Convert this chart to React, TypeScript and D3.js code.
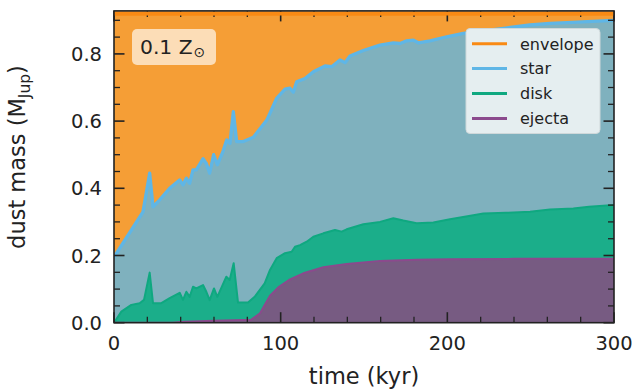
import React from 'react';
import * as d3 from 'd3';

// values (time in kyr, cumulative dust mass in M_Jup)
const envTime = [0, 300];
const envTop = [0.92, 0.92];

const starTime = [0, 17.4, 21.4, 23.4, 26.4, 33.4, 39.4, 41.4, 43.4, 45.4, 47.4, 49.4, 53.4, 55.4, 57.4, 59.8, 62, 65.4, 67.6, 69.6, 71.6, 73.6, 77.6, 83.6, 91.7, 97.6, 102.6, 105.6, 107.6, 109.6, 114.6, 119.6, 126.6, 130.6, 135.6, 138.6, 141.6, 149.6, 159.6, 167.6, 171.6, 175.6, 179.6, 182.6, 189.6, 199.6, 209.6, 220, 235, 249.6, 261.6, 275, 287, 300];
const starTop = [0.195, 0.33, 0.445, 0.345, 0.36, 0.4, 0.425, 0.41, 0.43, 0.415, 0.455, 0.455, 0.488, 0.474, 0.445, 0.5, 0.47, 0.51, 0.544, 0.534, 0.628, 0.539, 0.539, 0.552, 0.603, 0.668, 0.695, 0.698, 0.686, 0.717, 0.727, 0.747, 0.764, 0.762, 0.782, 0.774, 0.794, 0.81, 0.826, 0.833, 0.831, 0.839, 0.841, 0.833, 0.839, 0.851, 0.861, 0.868, 0.877, 0.886, 0.891, 0.894, 0.897, 0.9];

const diskTime = [0, 4.4, 10.4, 15.4, 18, 21.4, 23.4, 28.4, 33.4, 39.4, 41.4, 43.4, 45.4, 47.4, 49.4, 53.4, 55.4, 57.4, 60, 62, 67.4, 69.4, 71.8, 74.4, 80.4, 84.4, 90.4, 93.6, 97.6, 102.6, 106.6, 108.6, 111.6, 115.6, 119.6, 125.6, 132.6, 136.6, 139.6, 149.6, 159.6, 167.6, 173.6, 181.6, 191.6, 201.6, 215.6, 221.6, 235, 249.6, 261.6, 275.6, 285, 300];
const diskTop = [0, 0.033, 0.053, 0.058, 0.068, 0.149, 0.058, 0.058, 0.073, 0.089, 0.068, 0.092, 0.077, 0.107, 0.102, 0.112, 0.092, 0.067, 0.102, 0.077, 0.137, 0.127, 0.177, 0.06, 0.06, 0.077, 0.117, 0.157, 0.192, 0.207, 0.211, 0.226, 0.231, 0.241, 0.256, 0.266, 0.276, 0.271, 0.278, 0.293, 0.3, 0.311, 0.304, 0.296, 0.298, 0.308, 0.32, 0.325, 0.327, 0.33, 0.337, 0.34, 0.345, 0.35];

const ejectaTime = [0, 35, 42, 60, 82.4, 87.6, 93.6, 99, 105, 113.6, 125.6, 139.6, 159.6, 181.6, 201.6, 240, 300];
const ejectaTop = [0, 0, 0.003, 0.006, 0.009, 0.028, 0.08, 0.107, 0.127, 0.147, 0.165, 0.175, 0.184, 0.187, 0.189, 0.19, 0.19];

const legendLabels = ['envelope', 'star', 'disk', 'ejecta'];
const lineColors = ['#f98a14', '#5fb6e6', '#0fa880', '#8b4a8d'];
const fillColors = ['#f59e36', '#7fb1be', '#1bae8a', '#775b82'];

const xMajor = [0, 100, 200, 300];
const yMajor = [0, 0.2, 0.4, 0.6, 0.8];

const W = 635;
const H = 391;

const x = d3.scaleLinear().domain([0, 300]).range([114, 614]);
const y = d3.scaleLinear().domain([0, 0.928]).range([322.7, 10.9]);

const zip = (t: number[], v: number[]) => t.map((d, i) => [d, v[i]] as [number, number]);

const series = [
  zip(envTime, envTop),
  zip(starTime, starTop),
  zip(diskTime, diskTop),
  zip(ejectaTime, ejectaTop),
];

const area = d3.area<[number, number]>()
  .x(d => x(d[0]))
  .y0(y(0))
  .y1(d => y(d[1]));

const line = d3.line<[number, number]>()
  .x(d => x(d[0]))
  .y(d => y(d[1]));

const xMinor = d3.range(0, 301, 20).filter(v => v % 100 !== 0);
const yMinor = d3.range(0, 19).map(i => i * 0.05).filter(v => Math.abs(v * 5 - Math.round(v * 5)) > 1e-6);

const font = 'DejaVu Sans, sans-serif';

const App = () => {
  const [x0, x1] = x.range();
  const [y0, y1] = y.range();
  const tickColor = '#222';
  return (
    <div style={{ position: 'absolute', left: 0, top: 0 }}>
      <svg width={W} height={H} style={{ display: 'block', background: '#fff' }}>
        <defs>
          <clipPath id="plot">
            <rect x={x0} y={y1} width={x1 - x0} height={y0 - y1} />
          </clipPath>
        </defs>

        <g clipPath="url(#plot)">
          {series.map((s, i) => (
            <g key={i}>
              <path d={area(s) || ''} fill={fillColors[i]} />
              <path d={line(s) || ''} fill="none" stroke={lineColors[i]}
                strokeWidth={i === 0 ? 4 : i === 1 ? 3.3 : 2} strokeLinejoin="round" />
            </g>
          ))}
        </g>

        {/* ticks, inward on every side */}
        <g stroke={tickColor}>
          {xMajor.map(v => (
            <g key={'xM' + v}>
              <line x1={x(v)} x2={x(v)} y1={y0} y2={y0 - 10.5} strokeWidth={1.6} />
              <line x1={x(v)} x2={x(v)} y1={y1} y2={y1 + 10.5} strokeWidth={1.6} />
            </g>
          ))}
          {xMinor.map(v => (
            <g key={'xm' + v}>
              <line x1={x(v)} x2={x(v)} y1={y0} y2={y0 - 6} strokeWidth={1.3} />
              <line x1={x(v)} x2={x(v)} y1={y1} y2={y1 + 6} strokeWidth={1.3} />
            </g>
          ))}
          {yMajor.map(v => (
            <g key={'yM' + v}>
              <line x1={x0} x2={x0 + 10.5} y1={y(v)} y2={y(v)} strokeWidth={1.6} />
              <line x1={x1} x2={x1 - 10.5} y1={y(v)} y2={y(v)} strokeWidth={1.6} />
            </g>
          ))}
          {yMinor.map(v => (
            <g key={'ym' + v}>
              <line x1={x0} x2={x0 + 6} y1={y(v)} y2={y(v)} strokeWidth={1.3} />
              <line x1={x1} x2={x1 - 6} y1={y(v)} y2={y(v)} strokeWidth={1.3} />
            </g>
          ))}
        </g>

        {/* envelope edge sits over the top ticks */}
        <g clipPath="url(#plot)">
          <path d={line(series[0]) || ''} fill="none" stroke={lineColors[0]} strokeWidth={4} />
        </g>

        <rect x={x0} y={y1} width={x1 - x0} height={y0 - y1} fill="none" stroke={tickColor} strokeWidth={1.6} />

        {/* tick labels */}
        <g fontFamily={font} fontSize={19.5} fill="#222">
          {xMajor.map(v => (
            <text key={'xl' + v} x={x(v)} y={350} textAnchor="middle">{v}</text>
          ))}
          {yMajor.map(v => (
            <text key={'yl' + v} x={102} y={y(v) + 7} textAnchor="end">{v.toFixed(1)}</text>
          ))}
        </g>

        <text x={(x0 + x1) / 2} y={384} textAnchor="middle" fontFamily={font} fontSize={22.5} fill="#222">
          time (kyr)
        </text>
        <text transform={`translate(25, 157) rotate(-90)`} textAnchor="middle" fontFamily={font} fontSize={22.5} fill="#222">
          dust mass (M<tspan fontSize={15.5} dy={5}>Jup</tspan><tspan dy={-5}>)</tspan>
        </text>

        {/* metallicity label */}
        <rect x={132} y={29} width={84} height={36} rx={5} fill="#fcddb7" />
        <text x={140} y={54} fontFamily={font} fontSize={20.3} fill="#222">
          0.1 Z<tspan fontSize={14} dx={1} dy={3}>⊙</tspan>
        </text>

        {/* legend */}
        <rect x={466} y={28.5} width={134} height={105} rx={4} fill="#e5eef0" stroke="#cfd8da" strokeWidth={1} />
        {legendLabels.map((lab, i) => {
          const ly = 43.7 + i * 24.9;
          return (
            <g key={lab}>
              <line x1={472} x2={507} y1={ly} y2={ly} stroke={lineColors[i]} strokeWidth={3} />
              <text x={520} y={ly + 5.8} fontFamily={font} fontSize={16} fill="#222">{lab}</text>
            </g>
          );
        })}
      </svg>
    </div>
  );
};

export default App;
